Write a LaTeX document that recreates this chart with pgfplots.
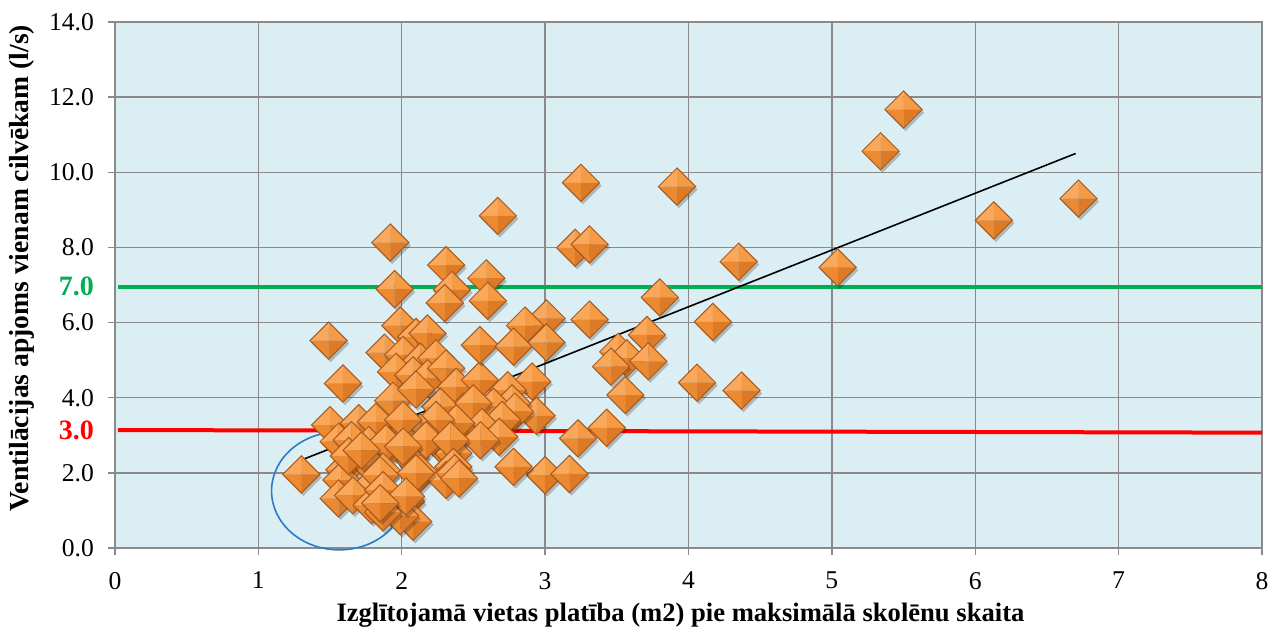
\documentclass[border=0pt]{standalone}
\usepackage{pgfplots}
\pgfplotsset{compat=1.18}
\usepackage{fontspec}
\setmainfont{Liberation Serif}
\definecolor{bgc}{HTML}{DBEEF4}
\definecolor{gridc}{HTML}{8A8A8A}
\definecolor{pyrTL}{HTML}{FAA85C}
\definecolor{pyrTR}{HTML}{F59A45}
\definecolor{pyrBL}{HTML}{EC8A32}
\definecolor{pyrBR}{HTML}{DD7A26}
\definecolor{pyrEdge}{HTML}{A85A1E}
\definecolor{lgreen}{HTML}{00B050}
\definecolor{lred}{HTML}{FF0000}
\definecolor{lblue}{HTML}{2E7BC4}
\pgfdeclareplotmark{pyr}{%
  \begin{pgfscope}%
    \pgfsetfillopacity{0.22}\pgfsetfillcolor{black}%
    \pgfpathmoveto{\pgfpoint{1pt}{\pgfplotmarksize-1.5pt}}%
    \pgfpathlineto{\pgfpoint{\pgfplotmarksize+1pt}{-1.5pt}}%
    \pgfpathlineto{\pgfpoint{1pt}{-\pgfplotmarksize-1.5pt}}%
    \pgfpathlineto{\pgfpoint{-\pgfplotmarksize+1pt}{-1.5pt}}%
    \pgfpathclose\pgfusepathqfill
  \end{pgfscope}%
  \pgfsetfillcolor{pyrTL}%
  \pgfpathmoveto{\pgfpointorigin}\pgfpathlineto{\pgfpoint{0pt}{\pgfplotmarksize}}\pgfpathlineto{\pgfpoint{-\pgfplotmarksize}{0pt}}\pgfpathclose\pgfusepathqfill
  \pgfsetfillcolor{pyrTR}%
  \pgfpathmoveto{\pgfpointorigin}\pgfpathlineto{\pgfpoint{0pt}{\pgfplotmarksize}}\pgfpathlineto{\pgfpoint{\pgfplotmarksize}{0pt}}\pgfpathclose\pgfusepathqfill
  \pgfsetfillcolor{pyrBL}%
  \pgfpathmoveto{\pgfpointorigin}\pgfpathlineto{\pgfpoint{0pt}{-\pgfplotmarksize}}\pgfpathlineto{\pgfpoint{-\pgfplotmarksize}{0pt}}\pgfpathclose\pgfusepathqfill
  \pgfsetfillcolor{pyrBR}%
  \pgfpathmoveto{\pgfpointorigin}\pgfpathlineto{\pgfpoint{0pt}{-\pgfplotmarksize}}\pgfpathlineto{\pgfpoint{\pgfplotmarksize}{0pt}}\pgfpathclose\pgfusepathqfill
  \pgfsetstrokecolor{pyrEdge}\pgfsetlinewidth{0.5pt}%
  \pgfpathmoveto{\pgfpoint{0pt}{\pgfplotmarksize}}\pgfpathlineto{\pgfpoint{\pgfplotmarksize}{0pt}}\pgfpathlineto{\pgfpoint{0pt}{-\pgfplotmarksize}}\pgfpathlineto{\pgfpoint{-\pgfplotmarksize}{0pt}}\pgfpathclose\pgfusepathqstroke
}
\begin{document}
\begin{tikzpicture}
\begin{axis}[
  name=ax,
  scale only axis, width=573.5pt, height=263pt,
  xmin=0, xmax=8, ymin=0, ymax=14,
  xtick={0,1,...,8}, ytick={0,2,...,14},
  clip=false,
  axis background/.style={fill=bgc},
  grid=major,
  major grid style={gridc, line width=0.7pt},
  axis line style={gridc, line width=0.7pt},
  tick style={gridc, line width=0.7pt},
  tick align=outside, major tick length=3.5pt,
  tick pos=left,
  /pgf/number format/assume math mode=true,
  ticklabel style={font=\fontsize{12.8}{14}\selectfont, black},
  yticklabel={\pgfmathprintnumber[fixed,fixed zerofill,precision=1]{\tick}},
  xticklabel={\pgfmathprintnumber[fixed,precision=0]{\tick}},
  yticklabel shift=3.5pt,
  xticklabel style={yshift=-5pt},
  extra y ticks={3.13,6.95},
  extra y tick labels={\textcolor{lred}{\bfseries 3.0}, \textcolor{lgreen}{\bfseries 7.0}},
  extra y tick style={grid=none, tick style={draw=none}, ticklabel style={font=\fontsize{14}{15}\selectfont}},
  xlabel={\textbf{Izglītojamā vietas platība (m2) pie maksimālā skolēnu skaita}},
  ylabel={\textbf{Ventilācijas apjoms vienam cilvēkam (l/s)}},
  xlabel style={font=\fontsize{13.3}{15}\selectfont, at={(axis description cs:0.493,-0.127)}, anchor=center},
  ylabel style={font=\fontsize{13.8}{15}\selectfont, at={(axis description cs:-0.081,0.532)}, anchor=center},
]
\addplot[only marks, mark=pyr, mark size=9.3pt] coordinates {
(1.92,8.13) (2.31,7.53) (2.59,7.18) (1.95,6.89) (2.35,6.87) (2.30,6.52) (2.60,6.58)
(2.67,8.84) (3.25,9.72) (3.21,7.99) (3.31,8.08) (3.92,9.62) (4.35,7.62) (3.80,6.67)
(4.17,6.02) (3.31,6.08) (3.01,6.11) (2.86,5.92) (3.71,5.67) (3.51,5.22) (3.57,5.05)
(3.72,4.97) (3.46,4.83) (3.56,4.07) (4.06,4.40) (4.37,4.19) (3.43,3.20) (3.23,2.92)
(3.00,1.94) (3.17,1.97) (2.78,2.16) (5.50,11.67) (5.34,10.56) (6.72,9.30) (6.13,8.72)
(5.04,7.47) (1.49,5.52) (1.59,4.38) (1.30,1.96)
(1.99,5.92) (2.10,5.62) (2.18,5.71) (1.88,5.20) (2.01,5.14) (2.13,4.96) (2.24,5.05)
(1.96,4.69) (2.08,4.60) (2.18,4.52) (2.31,4.78) (2.38,4.29) (2.545,4.47) (2.545,5.40)
(2.78,5.36) (3.01,5.47) (2.91,4.43) (2.74,4.20) (2.94,3.52) (2.77,3.85) (2.64,3.76)
(2.79,3.63) (2.43,3.63) (2.27,3.76) (2.50,3.85) (2.70,3.41) (2.56,3.22) (2.41,3.10)
(2.68,2.96) (2.38,3.32) (2.24,3.41) (2.13,3.08) (1.99,2.96) (2.31,2.61) (2.55,2.87)
(2.36,2.52) (1.94,3.92) (2.10,4.22) (2.06,2.43) (2.17,2.87) (2.34,2.87) (1.92,2.70)
(2.36,2.16) (2.13,1.99) (2.31,1.81) (2.37,1.99) (2.40,1.85)
(1.50,3.27) (1.70,3.32) (1.82,3.36) (2.01,3.41) (1.56,2.83) (1.65,2.87) (1.77,2.74)
(1.89,2.79) (2.01,2.70) (1.60,2.08) (1.78,2.21) (1.87,2.03) (1.58,1.81) (1.78,1.63)
(1.56,1.32) (1.66,1.40) (1.79,1.14) (1.92,1.10) (2.03,1.23) (2.08,0.70) (1.99,0.85)
(1.87,0.95) (2.10,1.99) (1.85,1.94) (1.87,1.54) (2.03,1.37) (1.85,1.19) (1.63,2.45)
(1.72,2.60)
};
\addplot[lgreen, line width=2pt] coordinates {(0.02,6.95) (8,6.95)};
\addplot[lred, line width=2pt] coordinates {(0.02,3.14) (8,3.07)};
\addplot[black, line width=0.8pt] coordinates {(1.30,2.34) (6.70,10.50)};
\draw[lblue, line width=0.8pt] (axis cs:1.564,1.52) ellipse [x radius=0.472, y radius=1.57];
\end{axis}
\pgfresetboundingbox
\path ([shift={(-57.5pt,-42.5pt)}]ax.south west) rectangle ([shift={(4pt,11pt)}]ax.north east);
\end{tikzpicture}
\end{document}
